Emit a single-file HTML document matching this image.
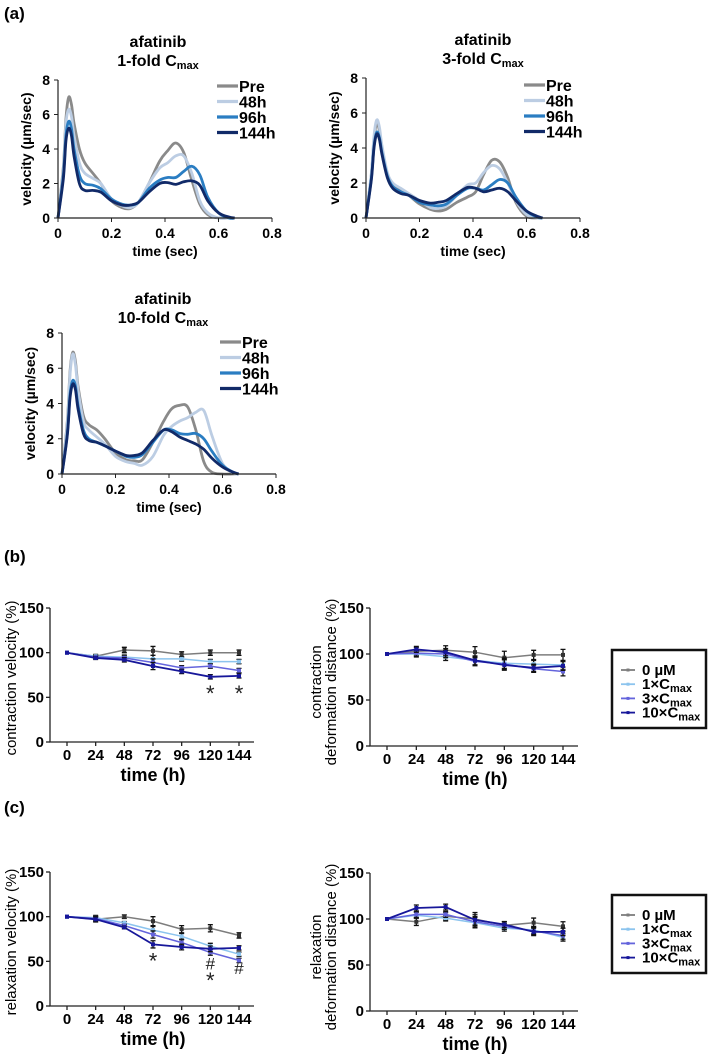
<!DOCTYPE html>
<html><head><meta charset="utf-8"><style>
body{margin:0;background:#fff}
svg text{font-family:"Liberation Sans",Arial,sans-serif}
</style></head><body>
<svg id="fig" width="709" height="1054" viewBox="0 0 709 1054" xmlns="http://www.w3.org/2000/svg">
<text x="4" y="19" font-size="17" font-weight="bold">(a)</text>
<text x="4" y="562" font-size="17" font-weight="bold">(b)</text>
<text x="4" y="813" font-size="17" font-weight="bold">(c)</text>
</svg>
<script>
// ---- Panel (a) data ----
const tGrid = [0,0.02,0.03,0.04,0.05,0.06,0.08,0.1,0.13,0.16,0.2,0.24,0.27,0.3,0.34,0.38,0.41,0.44,0.47,0.5,0.53,0.56,0.6,0.64,0.66];
const seriesNamesA = ["Pre","48h","96h","144h"];
const a1Pre = [0,3,5.8,7.0,6.6,5.5,4.0,3.2,2.6,2.0,1.0,0.6,0.55,0.9,2.0,3.3,3.9,4.35,3.8,2.2,0.8,0.2,0,0,0];
const a1h48 = [0,2.8,5.5,6.3,5.9,4.8,3.2,2.6,2.3,2.0,1.1,0.7,0.6,0.9,2.0,2.9,3.2,3.6,3.6,2.6,1.0,0.3,0,0,0];
const a1h96 = [0,2.5,4.8,5.6,5.2,4.0,2.5,2.0,1.9,1.7,1.1,0.8,0.75,0.9,1.7,2.2,2.35,2.35,2.7,3.0,2.5,1.2,0.3,0,0];
const a1h144 = [0,2.3,4.5,5.2,4.8,3.6,2.0,1.6,1.6,1.5,1.0,0.75,0.75,0.9,1.5,2.0,2.05,1.95,2.1,2.15,1.9,1.0,0.3,0.05,0];
const a2Pre = [0,2.5,4.5,5.4,5.0,4.0,2.5,1.9,1.6,1.3,0.8,0.5,0.4,0.5,0.9,1.2,1.5,2.5,3.3,3.2,2.3,0.9,0.1,0,0];
const a2h48 = [0,2.6,4.7,5.6,5.2,4.1,2.6,2.0,1.7,1.4,1.0,0.6,0.55,0.7,1.3,1.9,2.0,2.6,3.0,2.8,2.0,1.0,0.2,0,0];
const a2h96 = [0,2.3,4.1,4.9,4.6,3.7,2.4,1.8,1.5,1.3,0.9,0.75,0.7,0.8,1.3,1.7,1.7,1.6,1.9,2.2,2.0,1.2,0.4,0.05,0];
const a2h144 = [0,2.2,4.0,4.8,4.5,3.6,2.3,1.7,1.4,1.3,1.0,0.85,0.9,1.0,1.4,1.75,1.7,1.5,1.6,1.7,1.5,1.0,0.4,0.1,0];
const a3Pre = [0,3,5.8,6.9,6.4,5.0,3.3,2.8,2.5,2.0,1.2,0.8,0.75,0.8,1.8,3.0,3.7,3.9,3.8,2.5,0.7,0.1,0,0,0];
const a3h48 = [0,2.8,5.6,6.8,6.2,4.8,3.0,2.5,2.1,1.7,1.0,0.7,0.6,0.5,1.0,2.2,2.7,3.0,3.2,3.5,3.6,2.2,0.6,0.05,0];
const a3h96 = [0,2.3,4.5,5.3,5.0,3.9,2.5,2.0,1.8,1.6,1.3,1.0,0.95,1.1,1.8,2.5,2.5,2.3,2.25,2.3,2.0,1.3,0.5,0.1,0];
const a3h144 = [0,2.2,4.3,5.1,4.8,3.7,2.3,1.9,1.8,1.6,1.3,1.05,1.05,1.2,1.9,2.5,2.4,2.1,1.9,1.7,1.4,0.9,0.4,0.1,0];
const xTicksA = [0,0.2,0.4,0.6,0.8];
const xTickLabelsA = ["0","0.2","0.4","0.6","0.8"];
const yTicksA = [0,2,4,6,8];

// ---- Panels (b),(c) data ----
const hours = [0,24,48,72,96,120,144];
const groupNames = ["0 µM","1×Cmax","3×Cmax","10×Cmax"];
const b1Ctrl = [100,96,103,102,98,100,100];
const b1C1 = [100,96,95,93,93,90,90];
const b1C3 = [100,95,94,89,83,85,80];
const b1C10 = [100,94,92,85,79,73,74];
const b1Err = [0,2,3,5,3,3,3];
const b2Ctrl = [100,103,104,102,96,99,99];
const b2C1 = [100,100,97,93,90,89,88];
const b2C3 = [100,101,100,92,89,84,81];
const b2C10 = [100,105,102,93,88,85,87];
const b2Err = [0,4,5,6,7,5,6];
const c1Ctrl = [100,97,100,95,86,87,79];
const c1C1 = [100,99,93,85,78,67,58];
const c1C3 = [100,98,90,80,71,60,51];
const c1C10 = [100,97,88,69,66,64,65];
const c1Err = [0,3,2,5,4,4,3];
const c2Ctrl = [100,97,103,100,93,96,92];
const c2C1 = [100,104,101,96,90,88,80];
const c2C3 = [100,105,105,97,92,87,82];
const c2C10 = [100,112,113,99,94,86,86];
const c2Err = [0,4,4,7,4,5,5];
const yTicksB = [0,50,100,150];

const svg = document.getElementById('fig');
const NS = 'http://www.w3.org/2000/svg';
function mk(tag, attrs, parent){const e=document.createElementNS(NS,tag);for(const k in attrs)e.setAttribute(k,attrs[k]);(parent||svg).appendChild(e);return e;}
function smoothPath(pts){
  let d='M'+pts[0][0].toFixed(1)+','+pts[0][1].toFixed(1);
  for(let i=0;i<pts.length-1;i++){
    const p0=pts[Math.max(0,i-1)],p1=pts[i],p2=pts[i+1],p3=pts[Math.min(pts.length-1,i+2)];
    const c1x=p1[0]+(p2[0]-p0[0])/6,c1y=p1[1]+(p2[1]-p0[1])/6;
    const c2x=p2[0]-(p3[0]-p1[0])/6,c2y=p2[1]-(p3[1]-p1[1])/6;
    d+=' C'+c1x.toFixed(1)+','+c1y.toFixed(1)+' '+c2x.toFixed(1)+','+c2y.toFixed(1)+' '+p2[0].toFixed(1)+','+p2[1].toFixed(1);
  }
  return d;
}
const colorsA=["#8a8a8a","#bccde3","#2a7dc2","#112a68"];

function panelA(cfg){
  const g=mk('g',{});
  
  
  const sx=v=>cfg.x0+(cfg.x1-cfg.x0)*v/0.8;
  const sy=v=>cfg.y0-(cfg.y0-cfg.y8)*v/8;
  const t1=mk('text',{x:cfg.tx,y:cfg.ty,'font-size':16,'font-weight':'bold','text-anchor':'middle'},g);t1.textContent='afatinib';
  
  
  const t2=mk('text',{x:cfg.tx,y:cfg.ty+19,'font-size':16,'font-weight':'bold','text-anchor':'middle'},g);
  
  
  t2.appendChild(document.createTextNode(cfg.fold+' C'));
  const sub=mk('tspan',{'font-size':11,dy:3},t2);sub.textContent='max';
  cfg.series.forEach((arr,i)=>{
    const pts=tGrid.map((t,j)=>[sx(t),sy(arr[j])]);
    const p=mk('path',{d:smoothPath(pts),fill:'none',stroke:colorsA[i],'stroke-width':2.8,'stroke-linejoin':'round'},g);
    
    
  });
  const ax=mk('path',{d:`M${cfg.x0},${cfg.y8}V${cfg.y0}H${cfg.x1}`,fill:'none',stroke:'#222','stroke-width':1.2},g);
  
  
  yTicksA.forEach(v=>{
    mk('line',{x1:cfg.x0-4,x2:cfg.x0,y1:sy(v),y2:sy(v),stroke:'#222'},g);
    const t=mk('text',{x:cfg.x0-8,y:sy(v)+5,'font-size':14,'font-weight':'bold','text-anchor':'end'},g);t.textContent=v;
    
    
  });
  xTicksA.forEach((v,i)=>{
    mk('line',{x1:sx(v),x2:sx(v),y1:cfg.y0,y2:cfg.y0+4,stroke:'#222'},g);
    const t=mk('text',{x:sx(v),y:cfg.y0+20,'font-size':14,'font-weight':'bold','text-anchor':'middle'},g);t.textContent=xTickLabelsA[i];
    
    
  });
  const xl=mk('text',{x:(cfg.x0+cfg.x1)/2,y:cfg.y0+38,'font-size':14,'font-weight':'bold','text-anchor':'middle'},g);xl.textContent='time (sec)';
  
  
  const ym=(cfg.y0+cfg.y8)/2;
  const yl=mk('text',{x:0,y:0,'font-size':14,'font-weight':'bold','text-anchor':'middle',transform:`translate(${cfg.x0-27},${ym}) rotate(-90)`},g);yl.textContent='velocity (µm/sec)';
  
  
  seriesNamesA.forEach((n,i)=>{
    const y=cfg.ly+i*15.5;
    const lg=mk('g',{},g);
    
    
    mk('line',{x1:cfg.lx,x2:cfg.lx+21,y1:y,y2:y,stroke:colorsA[i],'stroke-width':3.2},lg);
    const t=mk('text',{x:cfg.lx+22,y:y+6,'font-size':16,'font-weight':'bold'},lg);t.textContent=n;
  });
}
panelA({name:'chart-1-fold',x0:58,x1:272,y0:218,y8:80,tx:158,ty:47,fold:'1-fold',lx:217,ly:86,series:[a1Pre,a1h48,a1h96,a1h144]});
panelA({name:'chart-3-fold',x0:366,x1:580,y0:218,y8:78,tx:483,ty:45,fold:'3-fold',lx:524,ly:85,series:[a2Pre,a2h48,a2h96,a2h144]});
panelA({name:'chart-10-fold',x0:62,x1:276,y0:474,y8:333,tx:163,ty:304,fold:'10-fold',lx:220,ly:342,series:[a3Pre,a3h48,a3h96,a3h144]});

const colorsB=["#7d7d7d","#8cc4ee","#6464dc","#17179a"];
function panelB(cfg){
  const g=mk('g',{});
  
  
  const sx=v=>cfg.x0+(cfg.x144-cfg.x0)*v/144;
  const sy=v=>cfg.yb-(cfg.yb-cfg.yt)*v/150;
  cfg.series.forEach((arr,i)=>{
    const pts=hours.map((h,j)=>`${sx(h).toFixed(1)},${sy(arr[j]).toFixed(1)}`).join(' ');
    const pl=mk('polyline',{points:pts,fill:'none',stroke:colorsB[i],'stroke-width':i===3?1.8:1.5},g);
    
    
    hours.forEach((h,j)=>{
      const e=cfg.err[j]*(i===0?1:0.8);
      if(e>0){
        const eb=mk('path',{d:`M${sx(h)},${sy(arr[j]+e)}V${sy(arr[j]-e)}M${sx(h)-2.5},${sy(arr[j]+e)}h5M${sx(h)-2.5},${sy(arr[j]-e)}h5`,stroke:'#111','stroke-width':1.3,fill:'none'},g);
        
        
      }
      const m=mk('rect',{x:sx(h)-2,y:sy(arr[j])-2,width:4,height:4,fill:i===0?'#333':colorsB[i]},g);
      
      
    });
  });
  const ax=mk('path',{d:`M${cfg.x0-17},${cfg.yt}V${cfg.yb}H${cfg.x144+15}`,fill:'none',stroke:'#222','stroke-width':1.3},g);
  
  
  const axX=cfg.x0-17;
  yTicksB.forEach(v=>{
    mk('line',{x1:axX-4,x2:axX,y1:sy(v),y2:sy(v),stroke:'#222','stroke-width':1.3},g);
    const t=mk('text',{x:axX-6,y:sy(v)+5,'font-size':15,'font-weight':'bold','text-anchor':'end'},g);t.textContent=v;
    
    
  });
  hours.forEach(h=>{
    mk('line',{x1:sx(h),x2:sx(h),y1:cfg.yb,y2:cfg.yb+4,stroke:'#222','stroke-width':1.3},g);
    const t=mk('text',{x:sx(h),y:cfg.yb+18,'font-size':15,'font-weight':'bold','text-anchor':'middle'},g);t.textContent=h;
    
    
  });
  const xl=mk('text',{x:(cfg.x0+cfg.x144)/2,y:cfg.yb+39,'font-size':18,'font-weight':'bold','text-anchor':'middle'},g);xl.textContent='time (h)';
  
  
  const ym=cfg.yb-64;
  cfg.ylabel.forEach((s,k)=>{
    const off=cfg.ylabel.length===1?0:(k===0?-15:0);
    const yl=mk('text',{x:0,y:0,'font-size':15,'text-anchor':'middle',transform:`translate(${axX-34+off},${ym}) rotate(-90)`},g);yl.textContent=s;
    
    
  });
  (cfg.marks||[]).forEach(mm=>{
    const t=mk('text',{x:sx(mm[0]),y:sy(mm[1]),'font-size':mm[2]==='*'?22:17,'text-anchor':'middle',fill:'#222'},g);t.textContent=mm[2];
    
    
  });
  if(cfg.legend){
    const lg=mk('g',{},g);
    
    
    mk('rect',{x:612,y:cfg.legend,width:94,height:78,fill:'#fff',stroke:'#111','stroke-width':2.5},lg);
    groupNames.forEach((n,i)=>{
      const y=cfg.legend+20+i*14.2;
      const e=mk('g',{},lg);
      
      
      mk('line',{x1:621,x2:635,y1:y,y2:y,stroke:colorsB[i],'stroke-width':1.8},e);
      mk('rect',{x:626.5,y:y-1.5,width:3,height:3,fill:colorsB[i]},e);
      const t=mk('text',{x:642,y:y+5,'font-size':15,'font-weight':'bold'},e);
      if(i===0){t.textContent='0 µM';}
      else{t.appendChild(document.createTextNode(n.replace('Cmax','C')));const s=mk('tspan',{'font-size':11,dy:3},t);s.textContent='max';}
    });
  }
}
panelB({name:'chart-contraction-velocity',x0:67,x144:239,yt:608,yb:742,series:[b1Ctrl,b1C1,b1C3,b1C10],err:b1Err,ylabel:['contraction velocity (%)'],marks:[[120,46,'*'],[144,46,'*']]});
panelB({name:'chart-contraction-deformation',x0:387,x144:563,yt:608,yb:746,series:[b2Ctrl,b2C1,b2C3,b2C10],err:b2Err,ylabel:['contraction','deformation distance (%)'],legend:650});
panelB({name:'chart-relaxation-velocity',x0:67,x144:239,yt:872,yb:1006,series:[c1Ctrl,c1C1,c1C3,c1C10],err:c1Err,ylabel:['relaxation velocity (%)'],marks:[[72,42,'*'],[120,20,'*'],[120,41,'#'],[144,36,'#']]});
panelB({name:'chart-relaxation-deformation',x0:387,x144:563,yt:873,yb:1011,series:[c2Ctrl,c2C1,c2C3,c2C10],err:c2Err,ylabel:['relaxation','deformation distance (%)'],legend:895});
</script>
</body></html>
